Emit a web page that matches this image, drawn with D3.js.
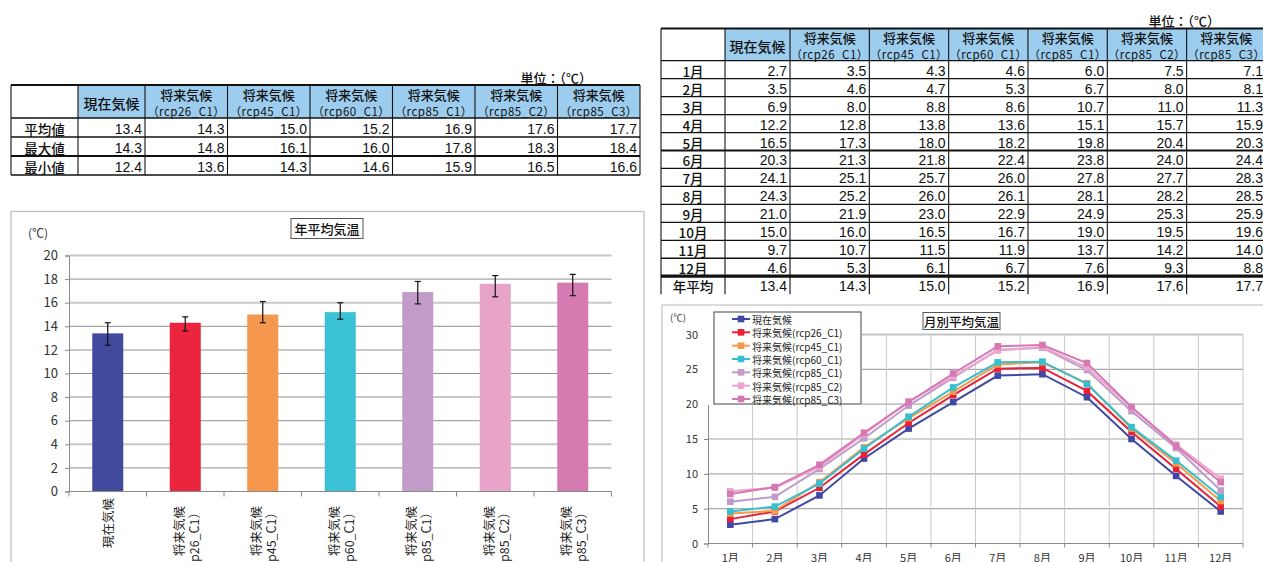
<!DOCTYPE html>
<html>
<head>
<meta charset="utf-8">
<script src="https://cdn.jsdelivr.net/npm/d3@7"></script>
<style>
  body { margin: 0; background: #fff; }
  svg { display: block; }
</style>
</head>
<body>
<svg id="chart" width="1263" height="562"></svg>
<script>
// ---- data ----
const scenarioNames = ["現在気候", "rcp26_C1", "rcp45_C1", "rcp60_C1", "rcp85_C1", "rcp85_C2", "rcp85_C3"];
const annualMean = [13.4, 14.3, 15.0, 15.2, 16.9, 17.6, 17.7];
const annualMax  = [14.3, 14.8, 16.1, 16.0, 17.8, 18.3, 18.4];
const annualMin  = [12.4, 13.6, 14.3, 14.6, 15.9, 16.5, 16.6];
const statLabels = ["平均値", "最大値", "最小値"];

const months = ["1月", "2月", "3月", "4月", "5月", "6月", "7月", "8月", "9月", "10月", "11月", "12月"];
const tempGenzai  = [2.7, 3.5, 6.9, 12.2, 16.5, 20.3, 24.1, 24.3, 21.0, 15.0, 9.7, 4.6];
const tempRcp26   = [3.5, 4.6, 8.0, 12.8, 17.3, 21.3, 25.1, 25.2, 21.9, 16.0, 10.7, 5.3];
const tempRcp45   = [4.3, 4.7, 8.8, 13.8, 18.0, 21.8, 25.7, 26.0, 23.0, 16.5, 11.5, 6.1];
const tempRcp60   = [4.6, 5.3, 8.6, 13.6, 18.2, 22.4, 26.0, 26.1, 22.9, 16.7, 11.9, 6.7];
const tempRcp85C1 = [6.0, 6.7, 10.7, 15.1, 19.8, 23.8, 27.8, 28.1, 24.9, 19.0, 13.7, 7.6];
const tempRcp85C2 = [7.5, 8.0, 11.0, 15.7, 20.4, 24.0, 27.7, 28.2, 25.3, 19.5, 14.2, 9.3];
const tempRcp85C3 = [7.1, 8.1, 11.3, 15.9, 20.3, 24.4, 28.3, 28.5, 25.9, 19.6, 14.0, 8.8];
const monthlySeries = [tempGenzai, tempRcp26, tempRcp45, tempRcp60, tempRcp85C1, tempRcp85C2, tempRcp85C3];
const annualRowLabel = "年平均";

const barTicks = [0, 2, 4, 6, 8, 10, 12, 14, 16, 18, 20];
const lineTicks = [0, 5, 10, 15, 20, 25, 30];
const unitLabel = "単位：（℃）";

const barColors  = ["#424a9e", "#ec253f", "#f5984e", "#3bc1d4", "#c29cc9", "#e8a4c8", "#d67ab2"];
const lineColors = ["#3f48a3", "#e8203a", "#f59a4a", "#35bfd0", "#c09aca", "#eca6ce", "#d678b4"];

// ---- helpers ----
const CJK = "'Noto Sans CJK JP', 'Noto Sans', sans-serif";
const NUM = "'Liberation Sans Narrow', 'Liberation Sans', Arial, sans-serif";
const svg = d3.select("#chart");
svg.append("rect").attr("width", 1263).attr("height", 562).attr("fill", "#fff");

function headerLines(i) {
  return i === 0 ? [scenarioNames[0]] : ["将来気候", "（" + scenarioNames[i] + "）"];
}
function legendName(i) {
  return i === 0 ? scenarioNames[0] : "将来気候(" + scenarioNames[i] + ")";
}

// Draws a bordered table: header row with scenario names, then labelled rows of values
function drawTable(colX, rowY, rowLabels, rows, opts) {
  const g = svg.append("g");
  const top = rowY[0], hb = rowY[1];
  g.append("rect")
    .attr("x", colX[1]).attr("y", top)
    .attr("width", colX[colX.length - 1] - colX[1]).attr("height", hb - top)
    .attr("fill", "#9dcdee");

  // header text
  scenarioNames.forEach((s, i) => {
    const cx = (colX[i + 1] + colX[i + 2]) / 2;
    const h = hb - top;
    const lines = headerLines(i);
    if (lines.length === 1) {
      g.append("text").attr("x", cx).attr("y", top + h * 0.55)
        .attr("text-anchor", "middle").attr("dominant-baseline", "central")
        .attr("font-family", CJK).attr("font-size", 14).attr("font-weight", 500).attr("fill", "#111")
        .text(lines[0]);
    } else {
      g.append("text").attr("x", cx).attr("y", top + h * 0.28)
        .attr("text-anchor", "middle").attr("dominant-baseline", "central")
        .attr("font-family", CJK).attr("font-size", 13).attr("font-weight", 500).attr("fill", "#111")
        .text(lines[0]);
      g.append("text").attr("x", cx).attr("y", top + h * 0.78)
        .attr("text-anchor", "middle").attr("dominant-baseline", "central")
        .attr("font-family", CJK).attr("font-size", 11.5).attr("letter-spacing", 0.5).attr("fill", "#111")
        .text(lines[1]);
    }
  });

  // body rows
  rowLabels.forEach((lab, r) => {
    const cy = (rowY[r + 1] + rowY[r + 2]) / 2 + 1;
    g.append("text").attr("x", (colX[0] + colX[1]) / 2).attr("y", cy)
      .attr("text-anchor", "middle").attr("dominant-baseline", "central")
      .attr("font-family", CJK).attr("font-size", 13.5).attr("font-weight", 500).attr("fill", "#111")
      .text(lab);
    rows[r].forEach((v, c) => {
      g.append("text").attr("x", colX[c + 2] - 3).attr("y", cy)
        .attr("text-anchor", "end").attr("dominant-baseline", "central")
        .attr("font-family", NUM).attr("font-size", 14).attr("fill", "#111")
        .text(d3.format(".1f")(v));
    });
  });

  // grid lines
  const x0 = colX[0], x1 = colX[colX.length - 1];
  const yEnd = rowY[rowY.length - 1];
  rowY.forEach((y, k) => {
    if (opts.noBottom && k === rowY.length - 1) return;
    const w = opts.thick[k] || 1.3;
    g.append("line").attr("x1", x0).attr("x2", x1).attr("y1", y).attr("y2", y)
      .attr("stroke", "#111").attr("stroke-width", w);
  });
  colX.forEach(x => {
    g.append("line").attr("x1", x).attr("x2", x).attr("y1", top).attr("y2", yEnd)
      .attr("stroke", "#111").attr("stroke-width", 1.1);
  });
  return g;
}

// ---- annual table ----
const leftCols = [11, 78, 145];
for (let i = 1; i <= 6; i++) leftCols.push(145 + i * 82.5);
const leftRows = [85, 118, 137, 156, 175];
drawTable(leftCols, leftRows, statLabels, [annualMean, annualMax, annualMin],
  { thick: { 0: 2, 3: 2 } });
svg.append("text").attr("x", 592).attr("y", 77)
  .attr("text-anchor", "end").attr("dominant-baseline", "central")
  .attr("font-family", CJK).attr("font-size", 13).attr("font-weight", 500).attr("fill", "#111").text(unitLabel);

// ---- monthly table ----
const rightCols = [661, 725, 790];
for (let i = 1; i <= 6; i++) rightCols.push(790 + i * 79.33);
const rightRows = [28.5, 60.7];
for (let i = 1; i <= 13; i++) rightRows.push(60.7 + i * 17.96);
const monthRows = months.map((m, k) => monthlySeries.map(s => s[k]));
monthRows.push(annualMean);
drawTable(rightCols, rightRows, months.concat([annualRowLabel]), monthRows,
  { thick: { 0: 2, 6: 2, 13: 3.2 }, noBottom: true });
svg.append("text").attr("x", 1220).attr("y", 20)
  .attr("text-anchor", "end").attr("dominant-baseline", "central")
  .attr("font-family", CJK).attr("font-size", 13).attr("font-weight", 500).attr("fill", "#111").text(unitLabel);

// ---- bar chart: annual mean temperature ----
(function () {
  const g = svg.append("g");
  g.append("rect").attr("x", 11).attr("y", 211.5).attr("width", 633).attr("height", 400)
    .attr("fill", "#fff").attr("stroke", "#c0c0c0").attr("stroke-width", 1.3);

  const x = d3.scaleBand().domain(scenarioNames).range([69, 611.5]);
  const xb = x.copy().paddingInner(0.6).paddingOuter(0.3);
  const y = d3.scaleLinear().domain([0, 20]).range([491.5, 255.5]);

  // gridlines
  barTicks.filter(t => t > 0).forEach(t => {
    const light = (t % 4 === 0);
    g.append("line").attr("x1", 69).attr("x2", 611.5).attr("y1", y(t)).attr("y2", y(t))
      .attr("stroke", light ? "#c8c8c8" : "#8f8f8f").attr("stroke-width", light ? 2 : 1);
  });

  // y axis
  const ya = g.append("g").attr("transform", "translate(69,0)")
    .call(d3.axisLeft(y).tickValues(barTicks).tickSize(4).tickPadding(7).tickFormat(d3.format("d")));
  ya.select(".domain").attr("stroke", "#8a8a8a");
  ya.selectAll(".tick line").attr("stroke", "#8a8a8a");
  ya.selectAll(".tick text").attr("font-family", CJK).attr("font-size", 13).attr("fill", "#333");

  // bars
  g.selectAll("rect.bar").data(annualMean).join("rect").attr("class", "bar")
    .attr("x", (d, i) => xb(scenarioNames[i]))
    .attr("width", xb.bandwidth())
    .attr("y", d => y(d))
    .attr("height", d => y(0) - y(d))
    .attr("fill", (d, i) => barColors[i]);

  // error bars (min to max)
  scenarioNames.forEach((s, i) => {
    const cx = x(s) + x.bandwidth() / 2;
    g.append("line").attr("x1", cx).attr("x2", cx).attr("y1", y(annualMin[i])).attr("y2", y(annualMax[i]))
      .attr("stroke", "#111").attr("stroke-width", 1.2);
    [annualMin[i], annualMax[i]].forEach(v => {
      g.append("line").attr("x1", cx - 3).attr("x2", cx + 3).attr("y1", y(v)).attr("y2", y(v))
        .attr("stroke", "#111").attr("stroke-width", 1.2);
    });
  });

  // x axis with ticks at category boundaries
  g.append("line").attr("x1", 69).attr("x2", 611.5).attr("y1", y(0)).attr("y2", y(0))
    .attr("stroke", "#8a8a8a").attr("stroke-width", 1.2);
  const bounds = scenarioNames.map(s => x(s)).concat([611.5]);
  bounds.forEach(bx => {
    g.append("line").attr("x1", bx).attr("x2", bx).attr("y1", y(0)).attr("y2", y(0) + 5)
      .attr("stroke", "#8a8a8a");
  });

  // rotated category labels
  scenarioNames.forEach((s, i) => {
    const cx = x(s) + x.bandwidth() / 2;
    const lines = headerLines(i);
    if (lines.length === 1) {
      g.append("text").attr("transform", `translate(${cx},498) rotate(-90)`)
        .attr("text-anchor", "end").attr("dominant-baseline", "central")
        .attr("font-family", CJK).attr("font-size", 12.5).attr("fill", "#222").text(lines[0]);
    } else {
      lines.forEach((t, k) => {
        g.append("text").attr("transform", `translate(${cx - 7 + k * 15},506) rotate(-90)`)
          .attr("text-anchor", "end").attr("dominant-baseline", "central")
          .attr("font-family", CJK).attr("font-size", 12.5).attr("fill", "#222").text(t);
      });
    }
  });

  // title and unit
  g.append("rect").attr("x", 291).attr("y", 218.5).attr("width", 72).attr("height", 20)
    .attr("fill", "#fff").attr("stroke", "#555").attr("stroke-width", 1);
  g.append("text").attr("x", 327).attr("y", 228.5).attr("text-anchor", "middle")
    .attr("dominant-baseline", "central").attr("font-family", CJK).attr("font-size", 13)
    .attr("font-weight", 500).attr("fill", "#111").text("年平均気温");
  g.append("text").attr("x", 28).attr("y", 232).attr("dominant-baseline", "central")
    .attr("font-family", CJK).attr("font-size", 12).attr("fill", "#333").text("(℃)");
})();

// ---- line chart: monthly mean temperature ----
(function () {
  const g = svg.append("g");
  g.append("rect").attr("x", 662).attr("y", 305).attr("width", 640).attr("height", 300)
    .attr("fill", "#fff").attr("stroke", "#c8c8c8").attr("stroke-width", 1.3);

  const x = d3.scaleBand().domain(months).range([708, 1243]);
  const y = d3.scaleLinear().domain([0, 30]).range([543.5, 334.5]);
  const px = m => x(m) + x.bandwidth() / 2;

  // gridlines
  lineTicks.filter(t => t > 0).forEach(t => {
    g.append("line").attr("x1", 708).attr("x2", 1243).attr("y1", y(t)).attr("y2", y(t))
      .attr("stroke", t % 10 === 0 ? "#c4c4c4" : "#a8a8a8").attr("stroke-width", t % 10 === 0 ? 1.8 : 1.1);
  });
  months.forEach((m, i) => {
    if (i === 0) return;
    g.append("line").attr("x1", x(m)).attr("x2", x(m)).attr("y1", y(30)).attr("y2", y(0))
      .attr("stroke", "#c8c8c8").attr("stroke-width", 1);
  });
  g.append("line").attr("x1", 1243).attr("x2", 1243).attr("y1", y(30)).attr("y2", y(0))
    .attr("stroke", "#c8c8c8").attr("stroke-width", 1);

  // y axis
  const ya = g.append("g").attr("transform", "translate(708,0)")
    .call(d3.axisLeft(y).tickValues(lineTicks).tickSize(4).tickPadding(6).tickFormat(d3.format("d")));
  ya.select(".domain").attr("stroke", "#8a8a8a");
  ya.selectAll(".tick line").attr("stroke", "#8a8a8a");
  ya.selectAll(".tick text").attr("font-family", CJK).attr("font-size", 11).attr("fill", "#333");

  // x axis
  g.append("line").attr("x1", 708).attr("x2", 1243).attr("y1", y(0)).attr("y2", y(0))
    .attr("stroke", "#8a8a8a").attr("stroke-width", 1.2);
  months.map(m => x(m)).concat([1243]).forEach(bx => {
    g.append("line").attr("x1", bx).attr("x2", bx).attr("y1", y(0)).attr("y2", y(0) + 4)
      .attr("stroke", "#8a8a8a");
  });
  months.forEach(m => {
    g.append("text").attr("x", px(m)).attr("y", 557).attr("text-anchor", "middle")
      .attr("dominant-baseline", "central").attr("font-family", CJK).attr("font-size", 11)
      .attr("fill", "#333").text(m);
  });

  // series lines and square markers
  const line = d3.line().x((d, i) => px(months[i])).y(d => y(d));
  monthlySeries.forEach((s, k) => {
    g.append("path").datum(s).attr("d", line).attr("fill", "none")
      .attr("stroke", lineColors[k]).attr("stroke-width", 2);
    g.selectAll(null).data(s).join("rect")
      .attr("x", (d, i) => px(months[i]) - 3.3).attr("y", d => y(d) - 3.3)
      .attr("width", 6.6).attr("height", 6.6).attr("fill", lineColors[k]);
  });

  // legend
  g.append("rect").attr("x", 702).attr("y", 309).attr("width", 160).attr("height", 96).attr("fill", "#fff");
  g.append("rect").attr("x", 714).attr("y", 312).attr("width", 147).attr("height", 92)
    .attr("fill", "#fff").attr("stroke", "#444").attr("stroke-width", 1);
  scenarioNames.forEach((s, k) => {
    const ly = 319 + k * 13.33;
    g.append("line").attr("x1", 732).attr("x2", 750).attr("y1", ly).attr("y2", ly)
      .attr("stroke", lineColors[k]).attr("stroke-width", 2);
    g.append("rect").attr("x", 741 - 3.3).attr("y", ly - 3.3).attr("width", 6.6).attr("height", 6.6)
      .attr("fill", lineColors[k]);
    g.append("text").attr("x", 752).attr("y", ly + 0.5).attr("dominant-baseline", "central")
      .attr("font-family", CJK).attr("font-size", 10).attr("fill", "#222").text(legendName(k));
  });

  // title and unit
  g.append("rect").attr("x", 923).attr("y", 312.5).attr("width", 77).attr("height", 17)
    .attr("fill", "#fff").attr("stroke", "#555").attr("stroke-width", 1);
  g.append("text").attr("x", 961.5).attr("y", 321.5).attr("text-anchor", "middle")
    .attr("dominant-baseline", "central").attr("font-family", CJK).attr("font-size", 12.5)
    .attr("font-weight", 500).attr("fill", "#111").text("月別平均気温");
  g.append("text").attr("x", 670).attr("y", 317).attr("dominant-baseline", "central")
    .attr("font-family", CJK).attr("font-size", 9.5).attr("fill", "#333").text("(℃)");
})();
</script>
</body>
</html>
